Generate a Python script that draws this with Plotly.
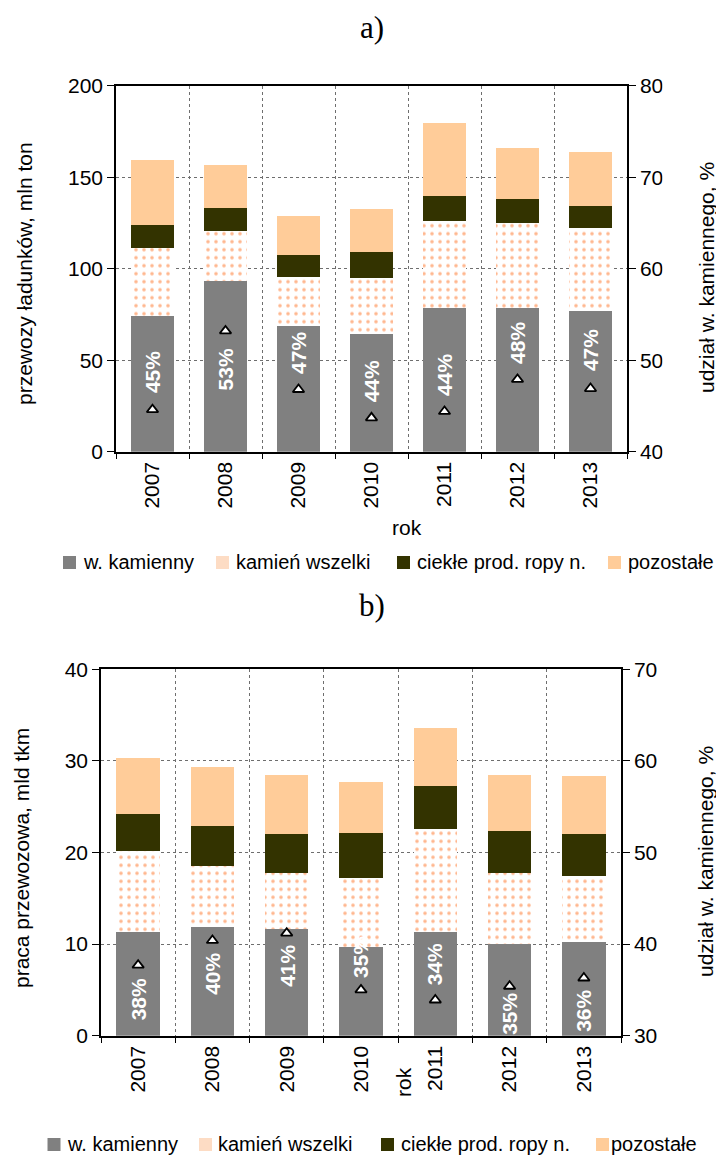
import plotly.graph_objects as go

# ---------------- data ----------------
years = ["2007", "2008", "2009", "2010", "2011", "2012", "2013"]

# a) przewozy ładunków, mln ton
coal_a = [74.3, 93.4, 68.9, 64.3, 78.5, 78.5, 77.0]
kamien_a = [37.2, 27.2, 26.6, 30.6, 47.5, 46.3, 45.2]
ciekle_a = [12.5, 12.6, 12.0, 14.2, 13.7, 13.2, 12.1]
pozostale_a = [35.4, 23.5, 21.3, 23.5, 39.9, 28.0, 29.5]
share_a = [44.6, 53.2, 46.8, 43.7, 44.4, 47.9, 46.9]
share_a_labels = ["45%", "53%", "47%", "44%", "44%", "48%", "47%"]

# b) praca przewozowa, mld tkm
coal_b = [11.32, 11.90, 11.65, 9.72, 11.32, 10.00, 10.23]
kamien_b = [8.81, 6.63, 6.12, 7.50, 11.25, 7.77, 7.24]
ciekle_b = [4.07, 4.37, 4.26, 4.91, 4.70, 4.59, 4.56]
pozostale_b = [6.10, 6.44, 6.44, 5.57, 6.33, 6.11, 6.33]
share_b = [37.7, 40.4, 41.2, 35.0, 33.9, 35.4, 36.3]
share_b_labels = ["38%", "40%", "41%", "35%", "34%", "35%", "36%"]

series_names = ["w. kamienny", "kamień wszelki", "ciekłe prod. ropy n.", "pozostałe"]

# ---------------- styles / layout ----------------
W, H = 716, 1157
FONT = "Liberation Sans, Arial, sans-serif"
SERIF = "Liberation Serif, Times New Roman, serif"
GRAY = "#808080"
ORANGE = "#FF7020"
DARK = "#333300"
PEACH = "#FFCC99"
GRID = "#6e6e6e"

# label vertical offsets (px) relative to triangle markers
shift_a = [37, -39, 36, 36, 36, 36, 38]
shift_b = [-34, -33, -33, 33, 36, -28, -33]


def fx(p):
    return p / W


def fy(p):
    return 1 - p / H


fig = go.Figure()


def add_chart(xa, ya, ya2, coal, kam, ciek, poz, share):
    common = dict(x=years, xaxis=xa, yaxis=ya, showlegend=False, hoverinfo="skip")
    fig.add_bar(y=coal, marker=dict(color=GRAY, line=dict(width=0)), name=series_names[0], **common)
    fig.add_bar(y=kam, marker=dict(color="white", line=dict(width=0),
                                   pattern=dict(shape=".", fgcolor=ORANGE, bgcolor="white",
                                                size=8, solidity=0.16)),
                name=series_names[1], **common)
    fig.add_bar(y=ciek, marker=dict(color=DARK, line=dict(width=0)), name=series_names[2], **common)
    fig.add_bar(y=poz, marker=dict(color=PEACH, line=dict(width=0)), name=series_names[3], **common)
    fig.add_scatter(x=years, y=share, xaxis=xa, yaxis=ya2, mode="markers", showlegend=False,
                    marker=dict(symbol="triangle-up", size=10, color="white",
                                line=dict(color="black", width=1.8)),
                    hoverinfo="skip")


add_chart("x", "y", "y2", coal_a, kamien_a, ciekle_a, pozostale_a, share_a)
add_chart("x2", "y3", "y4", coal_b, kamien_b, ciekle_b, pozostale_b, share_b)

tickfont = dict(family=FONT, size=21, color="black")


def xaxis_cfg(dom, anchor):
    return dict(domain=dom, anchor=anchor, type="category", tickson="boundaries",
                range=[-0.5, len(years) - 0.5], autorange=False, automargin=False,
                ticks="outside", ticklen=6, tickcolor="black", tickwidth=1,
                showline=True, linecolor="black", linewidth=1.5, mirror=True,
                showgrid=True, gridcolor=GRID, griddash="dot", gridwidth=1,
                tickangle=-90, tickfont=tickfont, fixedrange=True)


def yaxis_cfg(dom, anchor, rng, dtick, grid):
    return dict(domain=dom, anchor=anchor, range=rng, autorange=False, automargin=False,
                dtick=dtick, ticks="outside",
                ticklen=7, tickcolor="black", showline=True, linecolor="black",
                linewidth=1.5, showgrid=grid, gridcolor=GRID, griddash="dot",
                gridwidth=1, zeroline=False, tickfont=tickfont, fixedrange=True)


top_x = [fx(116), fx(627)]
top_y = [fy(451.7), fy(85.7)]
bot_x = [fx(101), fx(621)]
bot_y = [fy(1035.7), fy(669.3)]

fig.update_layout(
    width=W, height=H, autosize=False,
    margin=dict(l=0, r=0, t=0, b=0, pad=0, autoexpand=False),
    paper_bgcolor="white", plot_bgcolor="white",
    barmode="stack", bargap=0.415,
    showlegend=False,
    font=dict(family=FONT, color="black"),
    xaxis=xaxis_cfg(top_x, "y"),
    yaxis=yaxis_cfg(top_y, "x", [0, 200], 50, True),
    yaxis2=dict(yaxis_cfg(top_y, "x", [40, 80], 10, False), overlaying="y", side="right"),
    xaxis2=xaxis_cfg(bot_x, "y3"),
    yaxis3=yaxis_cfg(bot_y, "x2", [0, 40], 10, True),
    yaxis4=dict(yaxis_cfg(bot_y, "x2", [30, 70], 10, False), overlaying="y3", side="right"),
)

ann = []
# panel titles
ann.append(dict(x=fx(372), y=fy(28), xref="paper", yref="paper", text="a)", showarrow=False,
                font=dict(family=SERIF, size=31), xanchor="center", yanchor="middle"))
ann.append(dict(x=fx(372), y=fy(605), xref="paper", yref="paper", text="b)", showarrow=False,
                font=dict(family=SERIF, size=31), xanchor="center", yanchor="middle"))

title_font = dict(family=FONT, size=21, color="black")
# axis titles
ann.append(dict(x=fx(24), y=fy(274), xref="paper", yref="paper", text="przewozy ładunków, mln ton",
                textangle=-90, showarrow=False, font=title_font, xanchor="center", yanchor="middle"))
ann.append(dict(x=fx(707), y=fy(278), xref="paper", yref="paper", text="udział w. kamiennego, %",
                textangle=-90, showarrow=False, font=title_font, xanchor="center", yanchor="middle"))
ann.append(dict(x=fx(407), y=fy(527), xref="paper", yref="paper", text="rok",
                showarrow=False, font=title_font, xanchor="center", yanchor="middle"))
ann.append(dict(x=fx(21), y=fy(858), xref="paper", yref="paper", text="praca przewozowa, mld tkm",
                textangle=-90, showarrow=False, font=title_font, xanchor="center", yanchor="middle"))
ann.append(dict(x=fx(705), y=fy(862), xref="paper", yref="paper", text="udział w. kamiennego, %",
                textangle=-90, showarrow=False, font=title_font, xanchor="center", yanchor="middle"))
ann.append(dict(x=fx(403), y=fy(1082), xref="paper", yref="paper", text="rok", textangle=-90,
                showarrow=False, font=title_font, xanchor="center", yanchor="middle"))

# percentage labels (x given as category index)
lab_font = dict(family=FONT, size=21, color="white", weight="bold")
for i, (v, t, s) in enumerate(zip(share_a, share_a_labels, shift_a)):
    ann.append(dict(x=i, y=v, xref="x", yref="y2", text=t, textangle=-90, showarrow=False,
                    yshift=s, font=lab_font, xanchor="center", yanchor="middle"))
for i, (v, t, s) in enumerate(zip(share_b, share_b_labels, shift_b)):
    ann.append(dict(x=i, y=v, xref="x2", yref="y4", text=t, textangle=-90, showarrow=False,
                    yshift=s, font=lab_font, xanchor="center", yanchor="middle"))

shapes = []
# manual legends
leg_colors = [GRAY, "#FDDCC4", DARK, PEACH]
leg_a_sq = [63, 216, 397, 608]
leg_a_tx = [81, 234, 415, 626]
leg_b_sq = [47.5, 199, 381, 596]
leg_b_tx = [65, 216, 399, 609]
for sq, tx, yc in ((leg_a_sq, leg_a_tx, 562), (leg_b_sq, leg_b_tx, 1144)):
    for i in range(4):
        shapes.append(dict(type="rect", xref="paper", yref="paper",
                           x0=fx(sq[i]), x1=fx(sq[i] + 13), y0=fy(yc + 7), y1=fy(yc - 6),
                           fillcolor=leg_colors[i], line=dict(width=0)))
        ann.append(dict(x=fx(tx[i]), y=fy(yc), xref="paper", yref="paper", text=series_names[i],
                        showarrow=False, font=dict(family=FONT, size=20, color="black"),
                        xanchor="left", yanchor="middle"))

# clipped right-hand tick labels of panel a)
shapes.append(dict(type="rect", xref="paper", yref="paper", layer="above",
                   x0=fx(662.5), x1=fx(675), y0=fy(470), y1=fy(70),
                   fillcolor="white", line=dict(width=0)))

fig.update_layout(annotations=ann, shapes=shapes)

fig.write_html("out.html")
